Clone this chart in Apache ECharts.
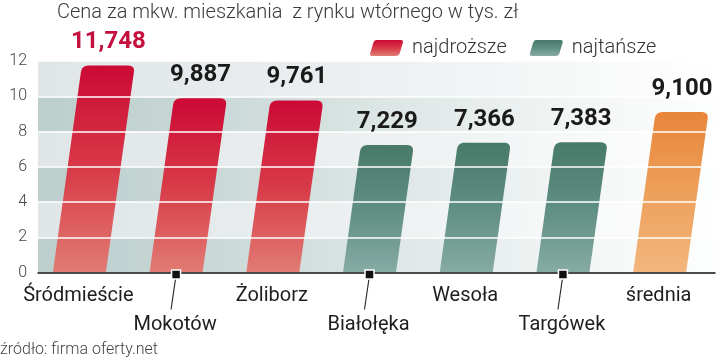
<!DOCTYPE html>
<html>
<head>
<meta charset="utf-8">
<script src="https://cdn.jsdelivr.net/npm/echarts@6/dist/echarts.min.js"></script>
<style>
html,body{margin:0;padding:0;background:#fff;}
#chart{width:720px;height:364px;}
</style>
</head>
<body>
<div id="chart"></div>
<script>
// ---- data ----
const categories = ['Śródmieście', 'Mokotów', 'Żoliborz', 'Białołęka', 'Wesoła', 'Targówek', 'średnia'];
const najdrozsze = [11.748, 9.887, 9.761, null, null, null, null];
const najtansze  = [null, null, null, 7.229, 7.366, 7.383, null];
const srednia    = [null, null, null, null, null, null, 9.100];
const yTicks = [0, 2, 4, 6, 8, 10, 12];
const staggered = [1, 3, 5];
const titleText = 'Cena za mkw. mieszkania  z rynku wtórnego w tys. zł';
const sourceText = 'źródło: firma oferty.net';

// ---- style ----
const FONT = 'Roboto';
const OFF = -7;      // bar bottom centre relative to category centre
const BAR_W = 53;
const SLANT = 0.14;  // horizontal shift per px of height
const RADIUS = 7;

function grad(top, mid, bottom) {
  return new echarts.graphic.LinearGradient(0, 0, 0, 1, [
    {offset: 0, color: top}, {offset: 0.5, color: mid}, {offset: 1, color: bottom}
  ]);
}
const redGrad = () => grad('#cc0935', '#d83a48', '#e17c74');
const greenGrad = () => grad('#477a69', '#5f8e82', '#86aba4');
const orangeGrad = () => grad('#e8853a', '#eda05a', '#f3b67e');

const allVals = najdrozsze.concat(najtansze, srednia).filter(v => v != null);
const maxVal = Math.max.apply(null, allVals);

function toData(arr) {
  const out = [];
  arr.forEach((v, i) => { if (v != null) out.push([i, v]); });
  return out;
}

function cornerPts(p0, c, p1, n) {
  const pts = [];
  for (let k = 0; k <= n; k++) {
    const t = k / n;
    const a = (1 - t) * (1 - t), b = 2 * (1 - t) * t, d = t * t;
    pts.push([a * p0[0] + b * c[0] + d * p1[0], a * p0[1] + b * c[1] + d * p1[1]]);
  }
  return pts;
}

function makeBarRender(fillFn) {
  return function (params, api) {
    const i = api.value(0), v = api.value(1);
    const b = api.coord([i, 0]);
    const t = api.coord([i, v]);
    const h = b[1] - t[1];
    const s = SLANT * h;
    const bx = b[0] + OFF;
    const BL = [bx - BAR_W / 2, b[1]];
    const BR = [bx + BAR_W / 2, b[1]];
    const TL = [bx - BAR_W / 2 + s, t[1]];
    const TR = [bx + BAR_W / 2 + s, t[1]];
    const len = Math.sqrt(s * s + h * h);
    const ux = s / len, uy = -h / len; // direction bottom->top along side
    const r = RADIUS;
    const pts = [BL, BR];
    const rA = [TR[0] - ux * r, TR[1] - uy * r];
    const rB = [TR[0] - r, TR[1]];
    cornerPts(rA, TR, rB, 6).forEach(p => pts.push(p));
    const lA = [TL[0] + r, TL[1]];
    const lB = [TL[0] - ux * r, TL[1] - uy * r];
    cornerPts(lA, TL, lB, 6).forEach(p => pts.push(p));
    return {
      type: 'polygon',
      shape: {points: pts},
      style: {fill: fillFn()}
    };
  };
}

function labelRender(params, api) {
  const i = api.value(0), v = api.value(1);
  const b = api.coord([i, 0]);
  const t = api.coord([i, v]);
  const h = b[1] - t[1];
  const cx = b[0] + OFF + SLANT * h;
  return {
    type: 'text',
    x: cx, y: t[1] - 11,
    style: {
      text: v.toFixed(3).replace('.', ','),
      fill: v === maxVal ? '#c50f3c' : '#1a1a1a',
      font: 'bold 24px ' + FONT,
      align: 'center', verticalAlign: 'bottom'
    }
  };
}

function tickRender(params, api) {
  const i = api.value(0);
  const p = api.coord([i, 0]);
  const cx = p[0] + OFF, cy = p[1] + 2;
  return {
    type: 'group',
    children: [
      {type: 'line', shape: {x1: cx - 0.5, y1: cy + 4, x2: cx - 5, y2: cy + 35},
       style: {stroke: '#222', lineWidth: 1.1}},
      {type: 'rect', shape: {x: cx - 4.5, y: cy - 4.5, width: 9, height: 9},
       style: {fill: '#111', stroke: '#fff', lineWidth: 1.5}}
    ]
  };
}

function bandGrad(stops) {
  return {type: 'linear', x: 0, y: 0, x2: 1, y2: 0, global: false,
    colorStops: stops.map(s => ({offset: s[0], color: s[1]}))};
}
const darkBand = bandGrad([[0, '#bccfcd'], [0.12, '#c0d2d1'], [0.42, '#d5e0df'], [0.56, '#e0e9e8'], [0.85, '#f6f8f8'], [1, '#fdfefe']]);
const lightBand = bandGrad([[0, '#e0e5e7'], [0.12, '#e2e7e9'], [0.56, '#eef2f3'], [0.85, '#f9fafa'], [1, '#ffffff']]);

const legendIcon = 'path://M6,0 L31,0 Q34,0 33,3 L30,13 Q29,16 26,16 L2,16 Q-1,16 0,13 L3,3 Q4,0 6,0 Z';

const chart = echarts.init(document.getElementById('chart'), null, {renderer: 'canvas'});
const yMin = yTicks[0], yMax = yTicks[yTicks.length - 1], yStep = yTicks[1] - yTicks[0];

chart.setOption({
  animation: false,
  backgroundColor: '#ffffff',
  title: [
    {text: titleText, left: 57, top: 3, padding: 0,
     textStyle: {fontFamily: FONT, fontSize: 20, fontWeight: 300, color: '#3a3a3a'}},
    {text: sourceText, left: 0, top: 342, padding: 0,
     textStyle: {fontFamily: FONT, fontSize: 16, fontWeight: 300, color: '#444'}}
  ],
  legend: {
    left: 370, top: 38, padding: 0,
    itemWidth: 33, itemHeight: 16, itemGap: 23,
    selectedMode: false,
    textStyle: {fontFamily: FONT, fontSize: 20, fontWeight: 300, color: '#333', padding: [0, 0, 0, 4]},
    data: [
      {name: 'najdroższe', icon: legendIcon, itemStyle: {color: redGrad()}},
      {name: 'najtańsze', icon: legendIcon, itemStyle: {color: greenGrad()}}
    ]
  },
  grid: {left: 38, right: 5, top: 61, bottom: 91.5, containLabel: false},
  xAxis: {
    type: 'category', data: categories, z: 6,
    axisLine: {show: true, lineStyle: {color: '#111', width: 1.5}},
    axisTick: {show: false},
    axisLabel: {
      interval: 0, margin: 9,
      fontFamily: FONT, fontSize: 20, color: '#1e1e1e', lineHeight: 29,
      padding: [0, 16, 0, 0],
      formatter: (val, idx) => staggered.indexOf(idx) >= 0 ? '\n' + val : val
    },
    splitLine: {show: false}
  },
  yAxis: [
    {
      type: 'value', min: yMin, max: yMax, interval: yStep, z: 0,
      axisLine: {show: false}, axisTick: {show: false},
      axisLabel: {margin: 11, fontFamily: FONT, fontSize: 16, fontWeight: 300, color: '#444'},
      splitLine: {show: false},
      splitArea: {show: true, areaStyle: {color: [darkBand, lightBand]}}
    },
    {
      type: 'value', min: yMin, max: yMax, interval: yStep, z: 3,
      axisLine: {show: false}, axisTick: {show: false}, axisLabel: {show: false},
      splitLine: {show: true, lineStyle: {color: '#ffffff', width: 1.6}},
      splitArea: {show: false}
    }
  ],
  series: [
    {name: 'najdroższe', type: 'custom', z: 2, renderItem: makeBarRender(redGrad),
     itemStyle: {color: redGrad()}, data: toData(najdrozsze), encode: {x: 0, y: 1}},
    {name: 'najtańsze', type: 'custom', z: 2, renderItem: makeBarRender(greenGrad),
     itemStyle: {color: greenGrad()}, data: toData(najtansze), encode: {x: 0, y: 1}},
    {name: 'średnia', type: 'custom', z: 2, renderItem: makeBarRender(orangeGrad),
     itemStyle: {color: orangeGrad()}, data: toData(srednia), encode: {x: 0, y: 1}},
    {name: 'labels', type: 'custom', z: 5, renderItem: labelRender, silent: true,
     data: toData(najdrozsze).concat(toData(najtansze), toData(srednia)), encode: {x: 0, y: 1}},
    {name: 'ticks', type: 'custom', z: 7, renderItem: tickRender, silent: true,
     data: staggered.map(i => [i, 0]), encode: {x: 0, y: 1}}
  ]
});
</script>
</body>
</html>
